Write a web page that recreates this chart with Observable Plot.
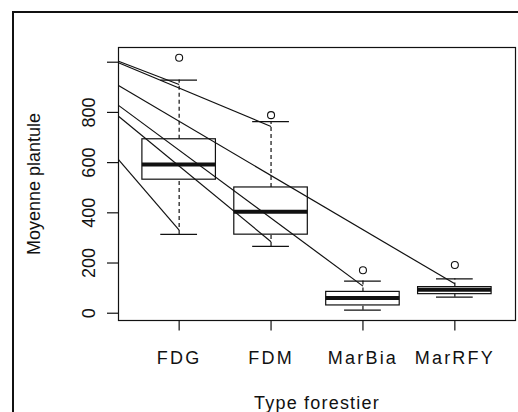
<!DOCTYPE html>
<html><head><meta charset="utf-8">
<script src="https://cdn.jsdelivr.net/npm/d3@7"></script>
<script src="https://cdn.jsdelivr.net/npm/@observablehq/plot@0.6"></script>
<style>
html,body{margin:0;padding:0;background:#fff;overflow:hidden}
#wrap{position:relative;width:518px;height:412px;overflow:hidden;background:#fff}
#outer{position:absolute;left:12px;top:11px;width:560px;height:460px;border:2px solid #111;box-sizing:border-box;pointer-events:none}
</style></head><body><div id="wrap"><div id="outer"></div></div>
<script>
// Data
const categories = ["FDG", "FDM", "MarBia", "MarRFY"];
const q1 = [532, 313, 31, 76];
const median = [592, 404, 61, 94];
const q3 = [693, 501, 85, 104];
const lowerWhisker = [314, 266, 12, 64];
const upperWhisker = [929, 763, 128, 137];
const outliers = [1018, 789, 171, 192];

const yTicks = [0, 200, 400, 600, 800, 1000];
const yTickLabels = [0, 200, 400, 600, 800];

// Straight lines drawn over the boxes: value at the left edge of the plot -> value at a category
const lineStart = [1004, 998, 907, 828, 785, 612];
const lineEndCategory = ["FDG", "FDM", "MarRFY", "MarBia", "FDM", "FDG"];
const lineEnd = [911, 744, 117, 108, 285, 331];

const xTitle = "Type forestier";
const yTitle = "Moyenne plantule";

const xDomain = [0.34, 4.66];

const boxes = categories.map((c, i) => ({
  cat: c, pos: i + 1, q1: q1[i], med: median[i], q3: q3[i],
  lo: lowerWhisker[i], hi: upperWhisker[i], out: outliers[i]
}));
const lines = lineStart.map((s, i) => ({
  start: s, endPos: categories.indexOf(lineEndCategory[i]) + 1, end: lineEnd[i]
}));

const half = 0.4, capHalf = 0.2;
const ink = "#111";
const font = "'Liberation Sans', Arial, Helvetica, sans-serif";

const chart = Plot.plot({
  width: 518,
  height: 412,
  marginLeft: 118,
  marginRight: 3,
  marginTop: 47,
  marginBottom: 92,
  x: {type: "linear", domain: xDomain},
  y: {domain: [-29, 1058.6]},
  style: {fontFamily: font, fontSize: "18px", color: ink, background: "transparent", overflow: "visible"},
  marks: [
    Plot.frame({stroke: ink, strokeWidth: 1.2}),
    Plot.axisY(yTicks, {tickSize: 11, fill: "none", stroke: ink, strokeWidth: 1.2}),
    Plot.axisX(categories.map((c, i) => i + 1), {tickSize: 10.5, fill: "none", stroke: ink, strokeWidth: 1.2}),
    // whiskers
    Plot.ruleX(boxes, {x: "pos", y1: "q3", y2: "hi", stroke: ink, strokeWidth: 1.2, strokeDasharray: "4,3"}),
    Plot.ruleX(boxes, {x: "pos", y1: "lo", y2: "q1", stroke: ink, strokeWidth: 1.2, strokeDasharray: "4,3"}),
    // whisker caps
    Plot.ruleY(boxes, {y: "hi", x1: d => d.pos - capHalf, x2: d => d.pos + capHalf, stroke: ink, strokeWidth: 1.2}),
    Plot.ruleY(boxes, {y: "lo", x1: d => d.pos - capHalf, x2: d => d.pos + capHalf, stroke: ink, strokeWidth: 1.2}),
    // boxes
    Plot.rect(boxes, {x1: d => d.pos - half, x2: d => d.pos + half, y1: "q1", y2: "q3", fill: "none", stroke: ink, strokeWidth: 1.2}),
    // medians
    Plot.ruleY(boxes, {y: "med", x1: d => d.pos - half, x2: d => d.pos + half, stroke: ink, strokeWidth: 4}),
    // outliers
    Plot.dot(boxes, {x: "pos", y: "out", r: 3.5, stroke: ink, fill: "none", strokeWidth: 1.1}),
    // overlaid lines
    Plot.link(lines, {x1: () => xDomain[0], y1: "start", x2: "endPos", y2: "end", stroke: ink, strokeWidth: 1.2}),
    // tick labels
    Plot.text(categories, {x: (d, i) => i + 1, text: d => d, frameAnchor: "bottom", dy: 43.3, lineAnchor: "bottom", fontSize: 18, fill: ink}),
    Plot.text(yTickLabels, {y: d => d, text: d => String(d), frameAnchor: "left", dx: -24, rotate: -90, lineAnchor: "bottom", textAnchor: "middle", fontSize: 18, fill: ink}),
    // titles
    Plot.text([yTitle], {text: d => d, frameAnchor: "left", dx: -78.3, rotate: -90, lineAnchor: "bottom", textAnchor: "middle", fontSize: 18, fill: ink}),
    Plot.text([xTitle], {text: d => d, frameAnchor: "bottom", dy: 88.3, lineAnchor: "bottom", fontSize: 18, fill: ink})
  ]
});
// wider tracking of the x-axis texts, as in the reference
d3.select(chart).selectAll("text")
  .filter(function() { return categories.includes(this.textContent); })
  .style("letter-spacing", "2.2px");
d3.select(chart).selectAll("text")
  .filter(function() { return this.textContent === xTitle; })
  .style("letter-spacing", "1.2px");
document.getElementById("wrap").prepend(chart);
</script>
</body></html>
